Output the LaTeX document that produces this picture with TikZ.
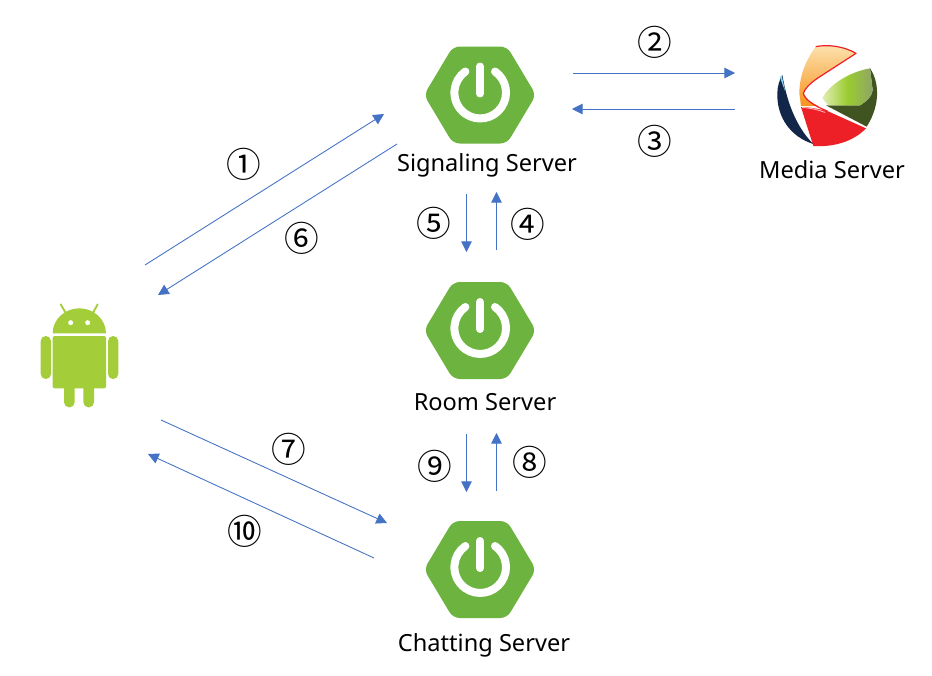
\documentclass[tikz,border=0pt]{standalone}
\usepackage{fontspec}
\setmainfont{Noto Sans}
\newfontfamily\circfont{Noto Sans CJK KR}
\usetikzlibrary{arrows.meta}
\definecolor{linkblue}{HTML}{4472C4}
\definecolor{springgreen}{HTML}{6CB33F}
\definecolor{droidgreen}{HTML}{A4CE39}
\definecolor{logonavy}{HTML}{12264A}
\definecolor{logored}{HTML}{EE2027}
\definecolor{logoolive}{HTML}{3F5420}
\definecolor{logopeach}{HTML}{FCE3B0}
\definecolor{logoorange}{HTML}{F7931E}
\definecolor{logopale}{HTML}{E2EEB4}
\definecolor{logolime}{HTML}{9ACB30}
\definecolor{logosage}{HTML}{8FA566}
\tikzset{
  link/.style={draw=linkblue,line width=0.65pt,-{Triangle[length=8pt,width=8pt,fill=linkblue]}},
  serverlabel/.style={font=\fontsize{17.7pt}{20pt}\selectfont,text=black,inner sep=0pt,anchor=base},
  stepnum/.style={font=\circfont\fontsize{26pt}{30pt}\selectfont,text=black,inner sep=0pt},
  springlogo/.pic={
    \fill[springgreen,rounded corners=5pt] (-56,0) -- (-27,-48.5) -- (27,-48.5) -- (56,0) -- (27,48.5) -- (-27,48.5) -- cycle;
    \draw[white,line width=6pt,line cap=round] (15,-23.5) arc[start angle=-55,end angle=235,radius=25.8];
    \draw[white,line width=6pt,line cap=round] (0,-28.5) -- (0,-1.5);
  },
  droid/.pic={
    \fill[droidgreen] (98,130) arc[start angle=180,end angle=360,x radius=80,y radius=75] -- cycle;
    \fill[droidgreen,rounded corners=1.5pt] (98,138) -- (258,138) -- (258,295) -- (98,295) -- cycle;
    \fill[droidgreen,rounded corners=3.8pt] (62,138) rectangle (93,267);
    \fill[droidgreen,rounded corners=3.8pt] (264,138) rectangle (295,267);
    \fill[droidgreen,rounded corners=3.8pt] (132,270) rectangle (164,352);
    \fill[droidgreen,rounded corners=3.8pt] (190,270) rectangle (222,352);
    \draw[droidgreen,line width=1.4pt,line cap=round] (122,43) -- (138,70);
    \draw[droidgreen,line width=1.4pt,line cap=round] (233,43) -- (218,70);
    \fill[white] (152,98) circle[radius=7.5];
    \fill[white] (203,98) circle[radius=7.5];
  },
  medialogo/.pic={
    % orange wedge
    \shade[top color=logopeach,bottom color=logoorange] (197,50) .. controls (165,95) and (148,140) .. (148,190) -- (153,228) -- (205,228) -- (175,212) -- (160,190) .. controls (165,175) and (180,160) .. (205,143) -- (318,70) .. controls (285,50) and (235,42) .. (197,50) -- cycle;
    % red outline of the wedge
    \draw[logored,line width=0.9pt,line join=round] (197,50) .. controls (235,42) and (285,50) .. (318,70) -- (205,143) .. controls (180,160) and (165,175) .. (160,190) .. controls (163,205) and (185,225) .. (232,243);
    % red lower part
    \fill[logored] (153,231) .. controls (185,232) and (210,238) .. (232,243) -- (348,295) .. controls (310,335) and (250,352) .. (190,348) -- cycle;
    \fill[white!65!logored] (156,231) .. controls (185,233) and (205,238) .. (225,246) -- (226,249) .. controls (205,241) and (185,236) .. (156,233.5) -- cycle;
    % navy crescent
    \fill[logonavy] (97,135) .. controls (108,200) and (132,285) .. (190,342) .. controls (120,320) and (80,260) .. (82,190) .. controls (82,170) and (88,150) .. (97,135) -- cycle;
    \fill[cyan!50] (90,140) -- (95,137) -- (106,185) .. controls (100,170) and (94,155) .. (90,140) -- cycle;
    % olive and green
    \fill[logoolive] (360,115) .. controls (385,150) and (395,220) .. (350,290) -- (228,226) -- (330,226) .. controls (350,215) and (368,195) .. (368,180) -- cycle;
    \shade[left color=logopale,right color=logosage,middle color=logolime] (360,115) .. controls (300,125) and (235,165) .. (217,205) -- (235,226) -- (330,226) .. controls (350,215) and (368,195) .. (368,180) -- cycle;
  }
}
\begin{document}
\begin{tikzpicture}[x=0.75pt,y=-0.75pt]
\useasboundingbox (0,0) rectangle (932,675);
\fill[white] (0,0) rectangle (932,675);

\pic at (480,95) {springlogo};
\pic at (480,330.5) {springlogo};
\pic at (480,569.5) {springlogo};
\begin{scope}[shift={(20,290)},x=0.25pt,y=-0.25pt]
\pic {droid};
\end{scope}
\begin{scope}[shift={(750,30)},x=0.25pt,y=-0.25pt]
\pic {medialogo};
\end{scope}

\node[serverlabel] (sig) at (487,171.7) {Signaling Server};
\node[serverlabel] (media) at (832,178) {Media Server};
\node[serverlabel] (room) at (485,410) {Room Server};
\node[serverlabel] (chat) at (484,651.7) {Chatting Server};

\node[stepnum] (n1) at (244,164) {①};
\node[stepnum] (n2) at (655,42) {②};
\node[stepnum] (n3) at (655,141) {③};
\node[stepnum] (n4) at (528,224) {④};
\node[stepnum] (n5) at (434,223) {⑤};
\node[stepnum] (n6) at (302,238) {⑥};
\node[stepnum] (n7) at (289,449) {⑦};
\node[stepnum] (n8) at (530,462) {⑧};
\node[stepnum] (n9) at (435,466) {⑨};
\node[stepnum] (n10) at (245,531) {⑩};

\coordinate (a1) at (145,265); \coordinate (b1) at (384,114);
\coordinate (a6) at (397,144); \coordinate (b6) at (158,295);
\coordinate (a2) at (573,73);  \coordinate (b2) at (735,73);
\coordinate (a3) at (735,109); \coordinate (b3) at (572,109);
\coordinate (a5) at (466.5,194); \coordinate (b5) at (466.5,252);
\coordinate (a4) at (496.5,250); \coordinate (b4) at (496.5,192);
\coordinate (a9) at (466.5,434); \coordinate (b9) at (466.5,492);
\coordinate (a8) at (496.5,491); \coordinate (b8) at (496.5,433);
\coordinate (a7) at (161,420); \coordinate (b7) at (387,523);
\coordinate (a10) at (374,558); \coordinate (b10) at (148,454);
\foreach \k in {1,...,10} {\draw[link] (a\k) -- (b\k);}
\end{tikzpicture}
\end{document}
